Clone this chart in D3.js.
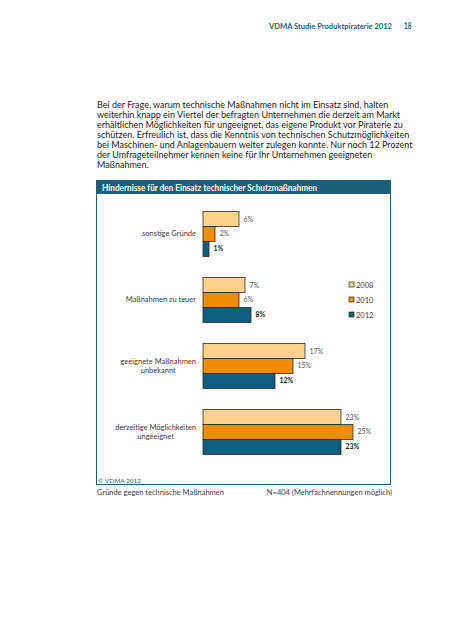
<!DOCTYPE html>
<html><head><meta charset="utf-8">
<script src="https://cdn.jsdelivr.net/npm/d3@7"></script>
<style>
html,body{margin:0;padding:0;background:#fff;}
svg{display:block;font-family:Lato,"Open Sans",sans-serif;}
</style></head>
<body>
<svg id="c" width="452" height="640"></svg>
<script>
const categories = [
  ["sonstige Gründe"],
  ["Maßnahmen zu teuer"],
  ["geeignete Maßnahmen", "unbekannt"],
  ["derzeitige Möglichkeiten", "ungeeignet"]
];
const years = ["2008", "2010", "2012"];
const values2008 = [6, 7, 17, 23];
const values2010 = [2, 6, 15, 25];
const values2012 = [1, 8, 12, 23];
const seriesValues = [values2008, values2010, values2012];
const colors = ["#fdd38b", "#f08c00", "#0e5f7e"];
const paragraph = [
  "Bei der Frage, warum technische Maßnahmen nicht im Einsatz sind, halten",
  "weiterhin knapp ein Viertel der befragten Unternehmen die derzeit am Markt",
  "erhältlichen Möglichkeiten für ungeeignet, das eigene Produkt vor Piraterie zu",
  "schützen. Erfreulich ist, dass die Kenntnis von technischen Schutzmöglichkeiten",
  "bei Maschinen- und Anlagenbauern weiter zulegen konnte. Nur noch 12 Prozent",
  "der Umfrageteilnehmer kennen keine für Ihr Unternehmen geeigneten",
  "Maßnahmen."
];
const chartTitle = "Hindernisse für den Einsatz technischer Schutzmaßnahmen";

const svg = d3.select("#c");
const teal = "#1b6079";
const textCol = "#3c3c3c";

// page header
svg.append("text").attr("x", 269).attr("y", 29)
  .attr("font-size", 8).attr("font-weight", "bold").attr("fill", teal)
  .attr("textLength", 123).attr("lengthAdjust", "spacingAndGlyphs")
  .text("VDMA Studie Produktpiraterie 2012");
svg.append("text").attr("x", 404).attr("y", 29)
  .attr("font-size", 9).attr("font-weight", "bold").attr("fill", teal)
  .attr("textLength", 7.5).attr("lengthAdjust", "spacingAndGlyphs").text("18");

// paragraph
svg.append("g").selectAll("text").data(paragraph).join("text")
  .attr("x", 97).attr("y", (d, i) => 108 + i * 10)
  .attr("font-size", 9).attr("fill", "#222").text(d => d);

// chart frame
svg.append("rect").attr("x", 96.5).attr("y", 180.5).attr("width", 294).attr("height", 304)
  .attr("fill", "#fff").attr("stroke", teal).attr("stroke-width", 1);
svg.append("rect").attr("x", 96).attr("y", 180).attr("width", 295).attr("height", 14).attr("fill", teal);
svg.append("text").attr("x", 102).attr("y", 190.5).attr("font-size", 9).attr("font-weight", "bold")
  .attr("fill", "#fff").attr("textLength", 215).attr("lengthAdjust", "spacingAndGlyphs")
  .text(chartTitle);

// scales
const x = d3.scaleLinear().domain([0, 25]).range([203, 353]);
const y0 = d3.scaleBand().domain(d3.range(categories.length)).range([201, 465])
  .paddingInner(0.32).paddingOuter(0.16);
const y1 = d3.scaleBand().domain(years).range([0, y0.bandwidth()]).padding(0);

const groups = svg.append("g").selectAll("g").data(categories).join("g")
  .attr("transform", (d, i) => `translate(0,${y0(i)})`);

groups.each(function(cat, ci) {
  const g = d3.select(this);
  years.forEach((yr, si) => {
    const v = seriesValues[si][ci];
    g.append("rect").attr("x", x(0)).attr("y", y1(yr))
      .attr("width", x(v) - x(0)).attr("height", y1.bandwidth())
      .attr("fill", colors[si]).attr("stroke", "#2b2b2b").attr("stroke-width", 0.8);
    g.append("text").attr("x", x(v) + 4.5).attr("y", y1(yr) + y1.bandwidth() / 2 + 2.5)
      .attr("font-size", 7).attr("fill", si === 2 ? "#222" : "#555")
      .attr("font-weight", si === 2 ? "bold" : "normal")
      .text(v + "%");
  });
  // category label
  const mid = y0.bandwidth() / 2;
  const lbl = g.append("g");
  const texts = lbl.selectAll("text").data(cat).join("text")
    .attr("font-size", 7.5).attr("fill", textCol).attr("text-anchor", "middle")
    .attr("y", (d, i) => mid + 2.5 + (i - (cat.length - 1) / 2) * 8.5)
    .text(d => d);
  let maxW = 0;
  texts.each(function() { maxW = Math.max(maxW, this.getComputedTextLength()); });
  texts.attr("x", 196 - maxW / 2);
});

// legend
const leg = svg.append("g").selectAll("g").data(years).join("g")
  .attr("transform", (d, i) => `translate(349,${282 + i * 15})`);
leg.append("rect").attr("width", 5).attr("height", 5)
  .attr("fill", (d, i) => colors[i]).attr("stroke", "#2b2b2b").attr("stroke-width", 0.7);
leg.append("text").attr("x", 7).attr("y", 5.5).attr("font-size", 7.5).attr("fill", textCol).text(d => d);

// footer
svg.append("text").attr("x", 98).attr("y", 483).attr("font-size", 6.5).attr("fill", "#555").text("© VDMA 2012");
svg.append("text").attr("x", 97).attr("y", 495).attr("font-size", 7.5).attr("fill", textCol)
  .text("Gründe gegen technische Maßnahmen");
svg.append("text").attr("x", 392).attr("y", 495).attr("text-anchor", "end").attr("font-size", 7.5)
  .attr("fill", textCol).text("N=404 (Mehrfachnennungen möglich)");
</script>
</body></html>
